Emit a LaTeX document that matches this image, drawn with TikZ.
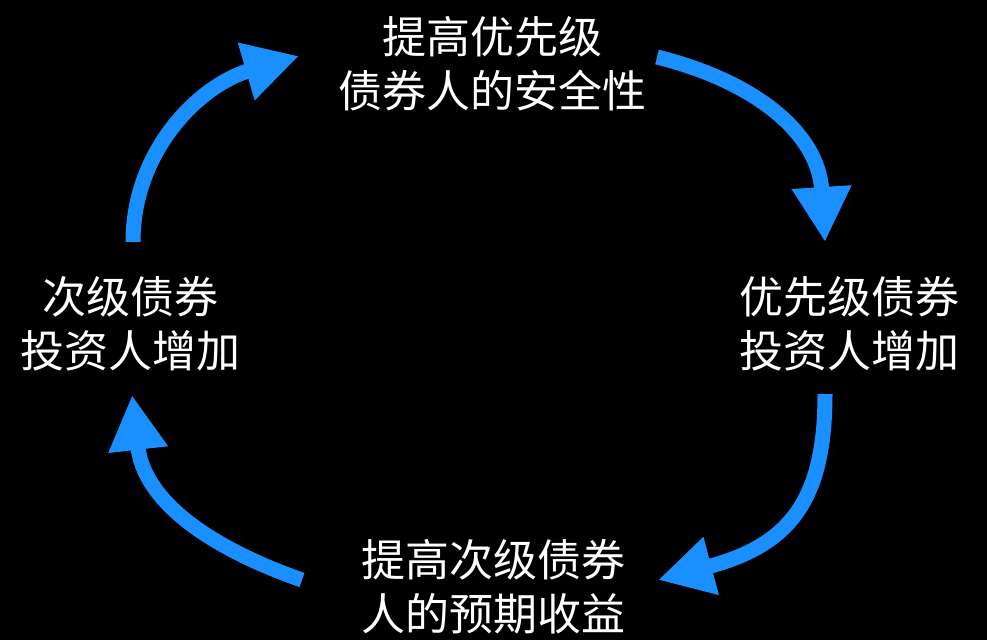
\documentclass[tikz,border=0pt]{standalone}
\usepackage{fontspec}
\setmainfont{Noto Sans CJK SC}
\usetikzlibrary{arrows.meta}
\definecolor{arrowblue}{RGB}{26,143,255}
\tikzset{
  lbl/.style={text=white, align=center, inner sep=0pt, font=\fontsize{44}{54}\selectfont},
  cyc/.style={draw=arrowblue, line width=15pt, -{Triangle[length=55pt,width=56pt]}}
}
\begin{document}
\begin{tikzpicture}[x=1pt,y=-1pt]
  \fill[black] (0,0) rectangle (987,640);
  \useasboundingbox (0,0) rectangle (987,640);
  \node[lbl] (top) at (492,64) {提高优先级\\债券人的安全性};
  \node[lbl] (right) at (849,324) {优先级债券\\投资人增加};
  \node[lbl] (bottom) at (493,587) {提高次级债券\\人的预期收益};
  \node[lbl] (left) at (130,324) {次级债券\\投资人增加};
  \coordinate (a1s) at (133,242);
  \coordinate (a1e) at (299,56);
  \coordinate (a2s) at (657,57);
  \coordinate (a2e) at (825,242);
  \coordinate (a3s) at (825,394);
  \coordinate (a3e) at (658,580);
  \coordinate (a4s) at (302,580);
  \coordinate (a4e) at (132,395);
  \draw[cyc] (a1s) .. controls (133,150) and (200,85) .. (a1e);
  \draw[cyc] (a2s) .. controls (750,80) and (818,130) .. (a2e);
  \draw[cyc] (a3s) .. controls (825,500) and (790,545) .. (a3e);
  \draw[cyc] (a4s) .. controls (230,555) and (145,510) .. (a4e);
\end{tikzpicture}
\end{document}
